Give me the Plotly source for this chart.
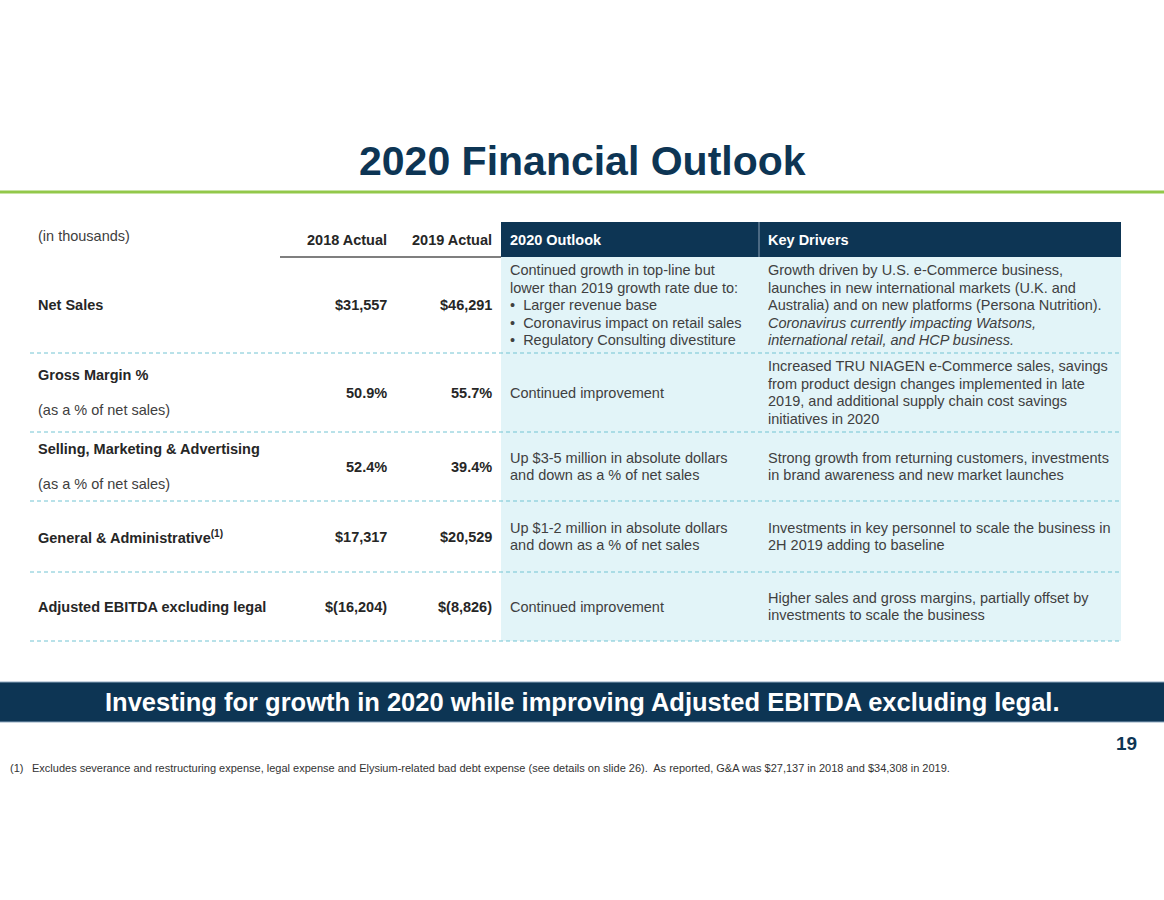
import plotly.graph_objects as go

# table data
row_labels = ["Net Sales", "Gross Margin %", "Selling, Marketing & Advertising",
              "General & Administrative<sup>(1)</sup>", "Adjusted EBITDA excluding legal"]
row_sublabels = ["", "(as a % of net sales)", "(as a % of net sales)", "", ""]
actual_2018 = ["$31,557", "50.9%", "52.4%", "$17,317", "$(16,204)"]
actual_2019 = ["$46,291", "55.7%", "39.4%", "$20,529", "$(8,826)"]
outlook_2020 = [
    ["Continued growth in top-line but", "lower than 2019 growth rate due to:",
     "•  Larger revenue base", "•  Coronavirus impact on retail sales",
     "•  Regulatory Consulting divestiture"],
    ["Continued improvement"],
    ["Up $3-5 million in absolute dollars", "and down as a % of net sales"],
    ["Up $1-2 million in absolute dollars", "and down as a % of net sales"],
    ["Continued improvement"],
]
key_drivers = [
    ["Growth driven by U.S. e-Commerce business,", "launches in new international markets (U.K. and",
     "Australia) and on new platforms (Persona Nutrition).", "<i>Coronavirus currently impacting Watsons,</i>",
     "<i>international retail, and HCP business.</i>"],
    ["Increased TRU NIAGEN e-Commerce sales, savings", "from product design changes implemented in late",
     "2019, and additional supply chain cost savings", "initiatives in 2020"],
    ["Strong growth from returning customers, investments", "in brand awareness and new market launches"],
    ["Investments in key personnel to scale the business in", "2H 2019 adding to baseline"],
    ["Higher sales and gross margins, partially offset by", "investments to scale the business"],
]
col_headers = ["2018 Actual", "2019 Actual", "2020 Outlook", "Key Drivers"]

title = "2020 Financial Outlook"
banner = "Investing for growth in 2020 while improving Adjusted EBITDA excluding legal."
footnote_mark = "(1)"
footnote = ("Excludes severance and restructuring expense, legal expense and Elysium-related bad debt expense "
            "(see details on slide 26).  As reported, G&A was $27,137 in 2018 and $34,308 in 2019.")
page_num = "19"

# layout geometry (pixels)
row_edges = [257, 353, 432, 501, 572, 641]
LINE_H = 17.5
FS = 14.5
NAVY = "#0d3554"
BODY = "#404040"
LABEL = "#262626"
FONT = "Liberation Sans, Arial, sans-serif"

fig = go.Figure()
shapes = []
ann = []

def txt(x, y, s, size=FS, color=BODY, xa="left", bold=False):
    if bold:
        s = "<b>" + s + "</b>"
    # annotations carry ~2px padding, compensate so text edges land on x
    x = x - 2 if xa == "left" else (x + 2 if xa == "right" else x)
    ann.append(dict(x=x, y=y, xref="x", yref="y", text=s, showarrow=False,
                    xanchor=xa, yanchor="middle", align="left",
                    font=dict(family=FONT, size=size, color=color)))

def block(x, mid, lines, color=BODY):
    n = len(lines)
    for k, line in enumerate(lines):
        txt(x, mid + (k - (n - 1) / 2) * LINE_H, line, color=color)

# title + green rule
txt(582, 161, title, size=41, color=NAVY, xa="center", bold=True)
shapes.append(dict(type="line", x0=0, x1=1164, y0=192, y1=192, line=dict(color="#92c84a", width=3)))

# header row
shapes.append(dict(type="rect", x0=501, x1=1121, y0=222, y1=257, fillcolor=NAVY, line=dict(width=0)))
shapes.append(dict(type="line", x0=759, x1=759, y0=222, y1=257, line=dict(color="#8a9fb3", width=1)))
shapes.append(dict(type="line", x0=280, x1=501, y0=257, y1=257, line=dict(color="#555555", width=1.3)))
# light blue body of outlook / drivers
shapes.append(dict(type="rect", x0=501, x1=1121, y0=257, y1=641, fillcolor="#e2f4f8", line=dict(width=0),
                   layer="below"))

txt(38, 236, "(in thousands)")
txt(387, 240, col_headers[0], color=LABEL, xa="right", bold=True)
txt(492, 240, col_headers[1], color=LABEL, xa="right", bold=True)
txt(510, 240, col_headers[2], color="white", bold=True)
txt(768, 240, col_headers[3], color="white", bold=True)

for i in range(len(row_labels)):
    top, bot = row_edges[i], row_edges[i + 1]
    mid = (top + bot) / 2
    shapes.append(dict(type="line", x0=30, x1=1121, y0=bot, y1=bot,
                       line=dict(color="#72c4d3", width=1, dash="4px,3px")))
    if row_sublabels[i]:
        txt(38, mid - 17.5, row_labels[i], color=LABEL, bold=True)
        txt(38, mid + 17.5, row_sublabels[i])
    else:
        txt(38, mid, row_labels[i], color=LABEL, bold=True)
    txt(387, mid, actual_2018[i], color=LABEL, xa="right", bold=True)
    txt(492, mid, actual_2019[i], color=LABEL, xa="right", bold=True)
    block(510, mid, outlook_2020[i])
    block(768, mid, key_drivers[i])

# banner
shapes.append(dict(type="rect", x0=-2, x1=1166, y0=682, y1=722, fillcolor=NAVY,
                   line=dict(color="#8fa9c0", width=1)))
txt(582, 702, banner, size=25.5, color="white", xa="center", bold=True)

txt(1137, 743, page_num, size=19, color=NAVY, xa="right", bold=True)
txt(10, 768, footnote_mark, size=11, color="#333333")
txt(32, 768, footnote, size=11, color="#333333")

fig.update_layout(
    width=1164, height=900,
    margin=dict(l=0, r=0, t=0, b=0),
    paper_bgcolor="white", plot_bgcolor="white",
    xaxis=dict(range=[0, 1164], visible=False, fixedrange=True),
    yaxis=dict(range=[900, 0], visible=False, fixedrange=True),
    shapes=shapes, annotations=ann, showlegend=False,
)

fig.write_html("out.html", config={"displayModeBar": False},
               post_script="document.body.style.margin='0';document.body.style.overflow='hidden';")
